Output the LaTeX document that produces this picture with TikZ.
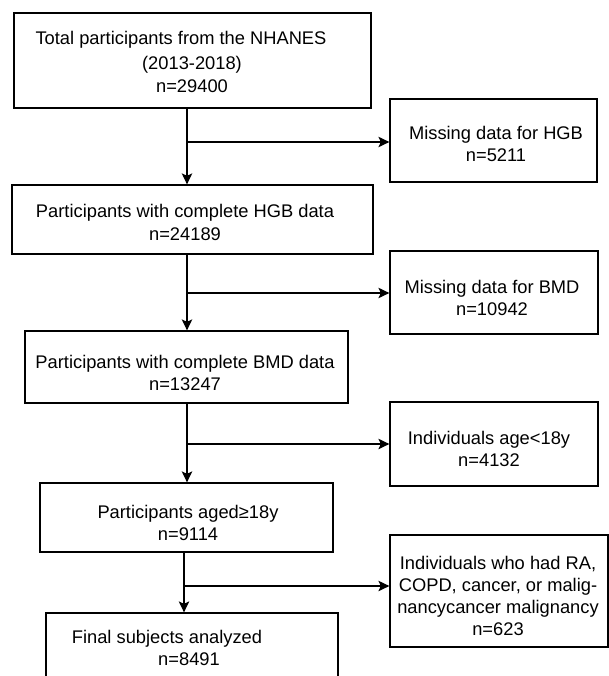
\documentclass[tikz,border=0pt]{standalone}
\usepackage{fontspec}
\setmainfont{Liberation Sans}
\usetikzlibrary{arrows.meta}
\begin{document}
\begin{tikzpicture}[x=1pt,y=-1pt,
  box/.style={draw, line width=1.3pt, inner sep=0pt},
  txt/.style={anchor=base, align=center, inner sep=0pt, font=\fontsize{18.3}{22}\selectfont},
  arr/.style={line width=1.3pt, -{Stealth[length=11pt, width=10.5pt, inset=2.5pt]}}]
\clip (0,0) rectangle (609,676);
\fill[white] (0,0) rectangle (609,676);
% main boxes
\node[box, minimum width=357pt, minimum height=95pt] (b1) at (192.5,60.5) {};
\node[box, minimum width=361pt, minimum height=69pt] (b2) at (192.5,219.5) {};
\node[box, minimum width=323pt, minimum height=72pt] (b3) at (186.5,367) {};
\node[box, minimum width=293pt, minimum height=69pt] (b4) at (186.5,517.5) {};
\node[box, minimum width=292pt, minimum height=87pt] (b5) at (192,656.5) {};
% side boxes
\node[box, minimum width=207pt, minimum height=83pt] (s1) at (493.5,140.5) {};
\node[box, minimum width=208pt, minimum height=83pt] (s2) at (494,292.5) {};
\node[box, minimum width=208pt, minimum height=84pt] (s3) at (494,444) {};
\node[box, minimum width=218pt, minimum height=112pt] (s4) at (499,591) {};
% texts (base anchor = baseline of the last line)
\node[txt] (t1) at (192,92.7) {Total participants from the NHANES\hspace*{22pt}\\[3pt](2013-2018)\\[1pt]n=29400};
\node[txt] (t2) at (185,240) {Participants with complete HGB data\\n=24189};
\node[txt] (t3) at (185,390) {Participants with complete BMD data\\n=13247};
\node[txt] (t4) at (188,540) {Participants aged≥18y\\n=9114};
\node[txt] (t5) at (189,665) {Final subjects analyzed\hspace*{44pt}\\n=8491};
\node[txt] (u1) at (496,161.7) {Missing data for HGB\\n=5211};
\node[txt] (u2) at (492,315.7) {Missing data for BMD\\n=10942};
\node[txt] (u3) at (489,466) {Individuals age<18y\\n=4132};
\node[txt] (u4) at (498,635) {Individuals who had RA,\\COPD, cancer, or malig-\\nancycancer malignancy\\n=623};
% connectors
\coordinate (x1) at (187,0);
\coordinate (x4) at (184,0);
\draw[arr] (b1.south -| x1) -- (b2.north -| x1);
\draw[arr] (b2.south -| x1) -- (b3.north -| x1);
\draw[arr] (b3.south -| x1) -- (b4.north -| x1);
\draw[arr] (b4.south -| x4) -- (b5.north -| x4);
\coordinate (j1) at (187,142);
\coordinate (j2) at (187,293);
\coordinate (j3) at (187,444);
\coordinate (j4) at (184,586);
\draw[arr] (j1) -- (j1 -| s1.west);
\draw[arr] (j2) -- (j2 -| s2.west);
\draw[arr] (j3) -- (j3 -| s3.west);
\draw[arr] (j4) -- (j4 -| s4.west);
\end{tikzpicture}
\end{document}
